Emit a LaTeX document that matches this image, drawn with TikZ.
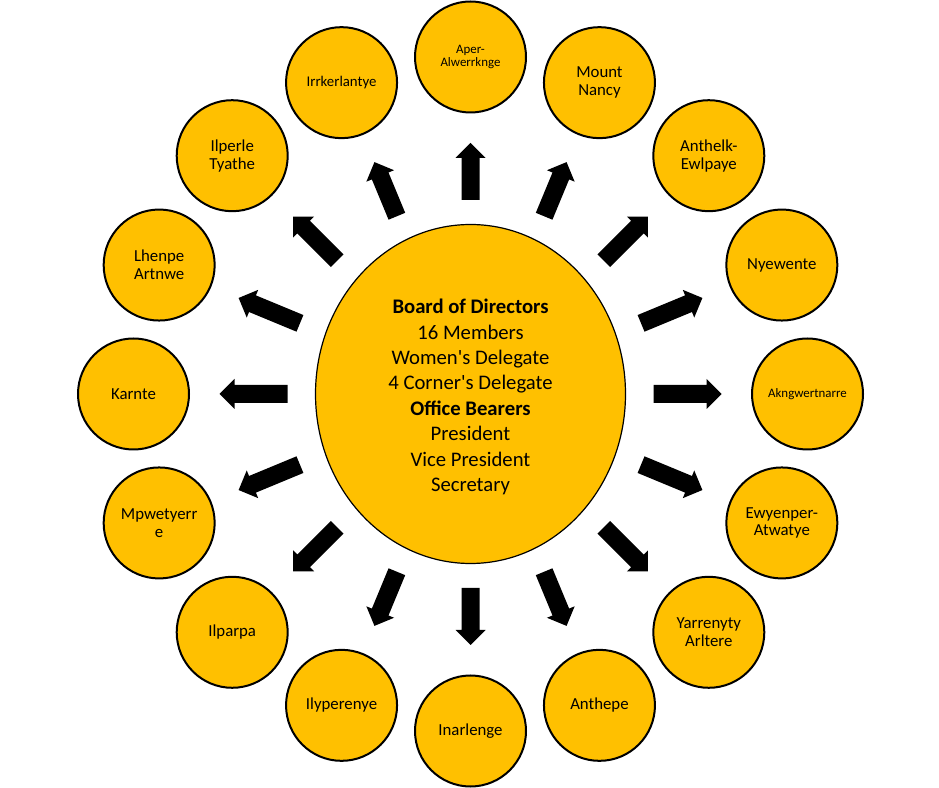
\documentclass[tikz,border=0pt]{standalone}
\usepackage{fontspec}
\setmainfont{Carlito}[Ligatures=TeXOff]
\usetikzlibrary{shapes.geometric}
\definecolor{gold}{HTML}{FFC000}
\begin{document}
\begin{tikzpicture}[x=1pt,y=1pt,
  outer/.style={circle,draw=black,line width=2pt,fill=gold,minimum size=111pt,inner sep=0pt,align=center,font=\fontsize{16.8}{17.8}\selectfont},
  smalltext/.style={font=\fontsize{12.9}{13.6}\selectfont},
  midtext/.style={font=\fontsize{14.8}{16}\selectfont},
  hub/.style={ellipse,draw=black,line width=1.2pt,fill=gold,minimum width=310pt,minimum height=339pt,inner sep=0pt},
  hubtext/.style={align=center,inner sep=0pt,font=\fontsize{20.7}{25.4}\selectfont},
  blockarrow/.style={fill=black}]
\useasboundingbox (0,0) rectangle (939,787);
\coordinate (C) at (470.5,393);
\node[hub] (hub) at (C) {};
\node[hubtext] (hubtxt) at ([yshift=-3pt]hub.center) {\textbf{Board of Directors}\\16 Members\\Women's Delegate\\4 Corner's Delegate\\\textbf{Office Bearers}\\President\\Vice President\\Secretary};
\foreach \a in {0,22.5,...,337.5} {
  \pgfmathsetmacro\ts{183+11*sin(\a)*sin(\a)}
  \fill[blockarrow,shift={(C)},rotate=\a] (\ts,-9) -- (236,-9) -- (236,-15) -- (251,0) -- (236,15) -- (236,9) -- (\ts,9) -- cycle;
}
\node[outer,smalltext] (n0) at ([shift={(90:337)}]C) {Aper-\\Alwerrknge};
\node[outer] (n1) at ([shift={(67.5:337)}]C) {Mount\\Nancy};
\node[outer] (n2) at ([shift={(45:337)}]C) {Anthelk-\\Ewlpaye};
\node[outer] (n3) at ([shift={(22.5:337)}]C) {Nyewente};
\node[outer,smalltext] (n4) at ([shift={(0:337)}]C) {Akngwertnarre};
\node[outer] (n5) at ([shift={(-22.5:337)}]C) {Ewyenper-\\Atwatye};
\node[outer] (n6) at ([shift={(-45:337)}]C) {Yarrenyty\\Arltere};
\node[outer] (n7) at ([shift={(-67.5:337)}]C) {Anthepe};
\node[outer] (n8) at ([shift={(-90:337)}]C) {Inarlenge};
\node[outer] (n9) at ([shift={(-112.5:337)}]C) {Ilyperenye};
\node[outer] (n10) at ([shift={(-135:337)}]C) {Ilparpa};
\node[outer] (n11) at ([shift={(-157.5:337)}]C) {Mpwetyerr\\e};
\node[outer] (n12) at ([shift={(180:337)}]C) {Karnte};
\node[outer] (n13) at ([shift={(157.5:337)}]C) {Lhenpe\\Artnwe};
\node[outer] (n14) at ([shift={(135:337)}]C) {Ilperle\\Tyathe};
\node[outer,midtext] (n15) at ([shift={(112.5:337)}]C) {Irrkerlantye};
\end{tikzpicture}
\end{document}
